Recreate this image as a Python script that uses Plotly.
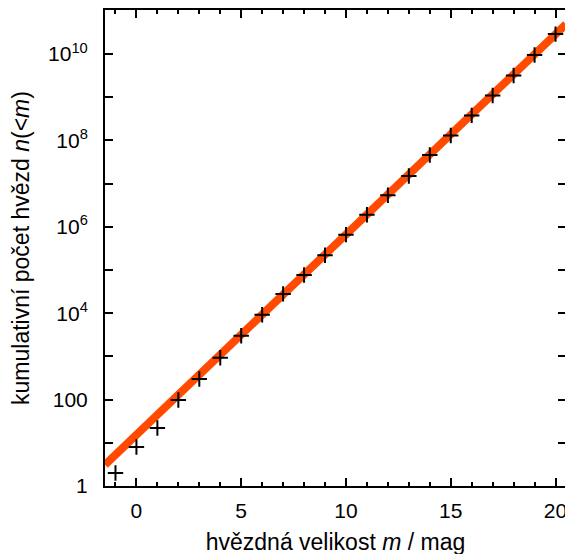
import plotly.graph_objects as go

# data
mag = [-1, 0, 1, 2, 3, 4, 5, 6, 7, 8, 9, 10, 11, 12, 13, 14, 15, 16, 17, 18, 19, 20]
count = [2.0, 8.0, 22, 98, 300, 930, 3.0e3, 9.2e3, 2.8e4, 7.7e4, 2.2e5, 6.6e5,
         1.9e6, 5.4e6, 1.5e7, 4.6e7, 1.3e8, 3.8e8, 1.1e9, 3.2e9, 9.5e9, 2.9e10]
fit_mag = [-1.5, 20.5]
fit_count = [3.1, 4.9e10]

ytick_vals = [10**k for k in range(0, 12)]
ytick_text = ["1", "", "100", "", "10<sup>4</sup>", "", "10<sup>6</sup>", "",
              "10<sup>8</sup>", "", "10<sup>10</sup>", ""]

fig = go.Figure()
fig.add_trace(go.Scatter(x=fit_mag, y=fit_count, mode="lines",
                         line=dict(color="#ff4a00", width=8), showlegend=False))
fig.add_trace(go.Scatter(x=mag, y=count, mode="markers",
                         marker=dict(symbol="cross-thin", size=11,
                                     line=dict(color="black", width=2)),
                         showlegend=False))

font = dict(family="Liberation Sans, Arial, sans-serif", size=19.5, color="black")
tickfont = dict(family="Liberation Sans, Arial, sans-serif", size=21, color="black")
fig.update_layout(
    width=573, height=554,
    margin=dict(l=97, r=15, t=2, b=76),
    paper_bgcolor="white", plot_bgcolor="white",
    font=font,
    xaxis=dict(range=[-1.5, 20.5], tickvals=[0, 5, 10, 15, 20], tickfont=tickfont,
               ticks="inside", ticklen=8, tickwidth=1.5, tickcolor="black",
               minor=dict(dtick=1, ticks="inside", ticklen=4, tickwidth=1.5, tickcolor="black"),
               showline=True, linewidth=2, linecolor="black", mirror="ticks",
               showgrid=False, zeroline=False, ticklabelstandoff=5, automargin=False,
               title=dict(text="hvězdná velikost <i>m</i> / mag", standoff=13)),
    yaxis=dict(type="log", range=[0, 11.02], tickvals=ytick_vals, ticktext=ytick_text,
               tickfont=tickfont,
               ticks="inside", ticklen=8, tickwidth=1.5, tickcolor="black",
               showline=True, linewidth=2, linecolor="black", mirror="ticks",
               showgrid=False, zeroline=False, ticklabelstandoff=11, automargin=False,
               title=dict(text="kumulativní počet hvězd <i>n</i>(&lt;<i>m</i>)", standoff=13)),
)
fig.write_html("out.html")
